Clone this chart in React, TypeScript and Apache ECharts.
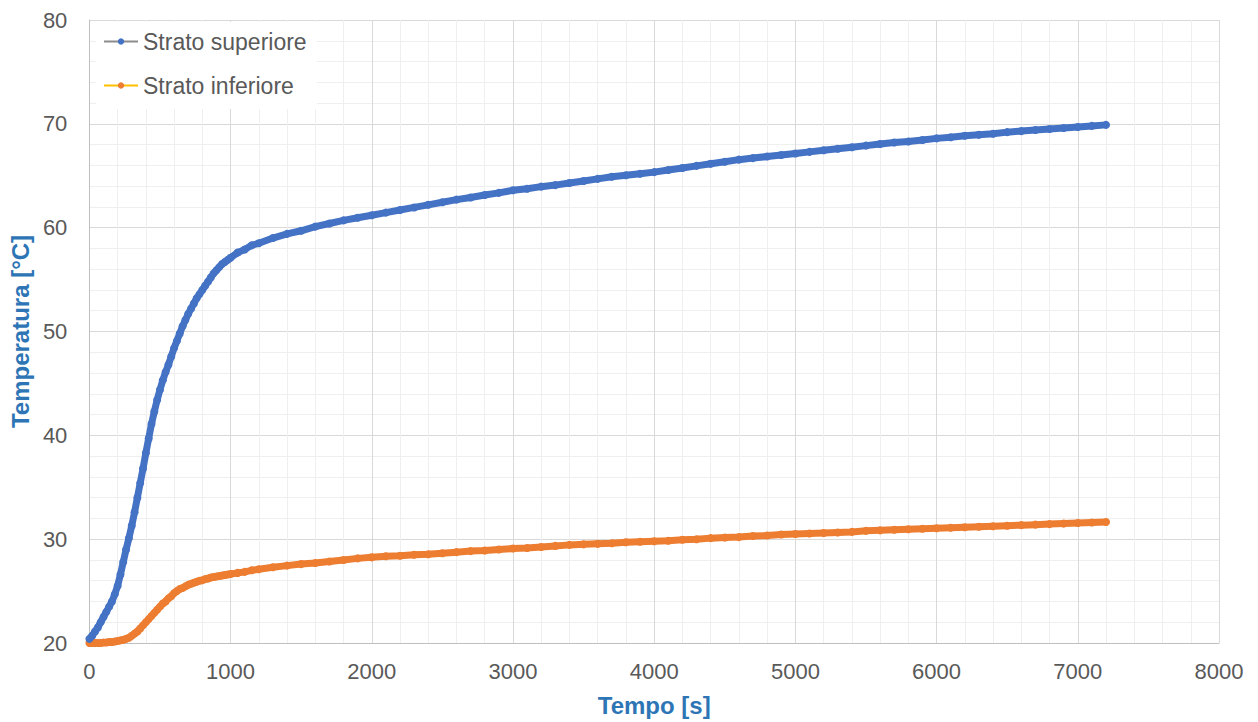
import React, { useEffect, useRef } from "react";
import * as echarts from "echarts";

const TIME = [
  0, 20, 40, 60, 80, 100, 120, 140, 160, 180, 200, 220, 240, 260, 280, 300, 320, 340, 360, 380,
  400, 420, 440, 460, 480, 500, 520, 540, 560, 580, 600, 620, 640, 660, 680, 700, 720, 740, 760, 780,
  800, 820, 840, 860, 880, 900, 920, 940, 960, 980, 1000,
  1050, 1100, 1150, 1200,
  1300, 1400, 1500, 1600, 1700, 1800, 1900, 2000, 2100, 2200, 2300, 2400, 2500, 2600, 2700, 2800, 2900, 3000,
  3100, 3200, 3300, 3400, 3500, 3600, 3700, 3800, 3900, 4000, 4100, 4200, 4300, 4400, 4500, 4600, 4700, 4800,
  4900, 5000, 5100, 5200, 5300, 5400, 5500, 5600, 5700, 5800, 5900, 6000, 6100, 6200, 6300, 6400, 6500, 6600,
  6700, 6800, 6900, 7000, 7100, 7200,
];

const STRATO_SUPERIORE = [
  20.4, 20.7, 21.1, 21.5, 22.0, 22.5, 23.0, 23.5, 24.0, 24.7, 25.5, 26.6, 27.8, 29.0, 30.1, 31.3, 32.6, 34.0, 35.4, 36.8,
  38.3, 39.7, 41.1, 42.3, 43.4, 44.4, 45.3, 46.1, 46.8, 47.6, 48.4, 49.1, 49.8, 50.5, 51.1, 51.7, 52.2, 52.7, 53.2, 53.6,
  54.0, 54.4, 54.8, 55.2, 55.6, 55.9, 56.2, 56.5, 56.7, 56.9, 57.1,
  57.6, 57.9, 58.3, 58.5,
  59.0, 59.4, 59.7, 60.1, 60.4, 60.7, 60.95, 61.2, 61.45, 61.7, 61.95, 62.2, 62.45, 62.7, 62.9, 63.15, 63.35, 63.6,
  63.75, 63.95, 64.1, 64.3, 64.5, 64.7, 64.9, 65.05, 65.2, 65.35, 65.55, 65.75, 65.95, 66.15, 66.35, 66.55, 66.7, 66.85,
  67.0, 67.15, 67.3, 67.45, 67.6, 67.75, 67.9, 68.05, 68.2, 68.3, 68.45, 68.6, 68.7, 68.85, 68.95, 69.05, 69.2, 69.3,
  69.4, 69.5, 69.6, 69.7, 69.8, 69.9,
];

const STRATO_INFERIORE = [
  20.0, 20.0, 20.0, 20.0, 20.0, 20.05, 20.05, 20.1, 20.1, 20.15, 20.2, 20.25, 20.3, 20.4, 20.5, 20.7, 20.9, 21.1, 21.4, 21.7,
  22.0, 22.3, 22.6, 22.9, 23.2, 23.5, 23.8, 24.0, 24.3, 24.5, 24.8, 25.0, 25.2, 25.3, 25.45, 25.6, 25.7, 25.8, 25.9, 26.0,
  26.05, 26.15, 26.2, 26.3, 26.35, 26.4, 26.45, 26.5, 26.55, 26.6, 26.65,
  26.75, 26.85, 27.0, 27.1,
  27.3, 27.45, 27.6, 27.7, 27.85, 28.0, 28.15, 28.25, 28.35, 28.4, 28.5, 28.55, 28.65, 28.75, 28.85, 28.9, 29.0, 29.1,
  29.15, 29.25, 29.35, 29.45, 29.5, 29.55, 29.6, 29.7, 29.75, 29.8, 29.85, 29.95, 30.0, 30.1, 30.15, 30.2, 30.3, 30.35,
  30.45, 30.5, 30.55, 30.6, 30.65, 30.7, 30.8, 30.85, 30.9, 30.95, 31.0, 31.05, 31.1, 31.15, 31.2, 31.25, 31.3, 31.35,
  31.4, 31.45, 31.5, 31.55, 31.6, 31.65,
];

const SERIES_NAMES = ["Strato superiore", "Strato inferiore"];
const X_TITLE = "Tempo [s]";
const Y_TITLE = "Temperatura [°C]";

const FONT = "'Liberation Sans', Arial, sans-serif";
const TITLE_COLOR = "#2E75B6";
const LABEL_COLOR = "#595959";

export default function App() {
  const ref = useRef<HTMLDivElement>(null);

  useEffect(() => {
    if (!ref.current) return;
    const chart = echarts.init(ref.current, undefined, { renderer: "svg" });
    const sup = TIME.map((t, i) => [t, STRATO_SUPERIORE[i]]);
    const inf = TIME.map((t, i) => [t, STRATO_INFERIORE[i]]);

    chart.setOption({
      animation: false,
      backgroundColor: "#ffffff",
      textStyle: { fontFamily: FONT },
      grid: { left: 87, right: 39, top: 20, bottom: 78, containLabel: false },
      legend: {
        orient: "vertical",
        left: 96,
        top: 22,
        itemWidth: 34,
        itemHeight: 8,
        itemGap: 21,
        padding: [8, 10, 12, 7],
        backgroundColor: "#ffffff",
        textStyle: { fontFamily: FONT, fontSize: 23, color: LABEL_COLOR },
        data: [
          { name: SERIES_NAMES[0], lineStyle: { color: "#8c8c8c", width: 2 } },
          { name: SERIES_NAMES[1], lineStyle: { color: "#FFC000", width: 2 } },
        ],
      },
      xAxis: {
        type: "value",
        min: 0,
        max: 8000,
        interval: 1000,
        name: X_TITLE,
        nameLocation: "middle",
        nameGap: 50,
        nameTextStyle: { fontFamily: FONT, fontSize: 24, fontWeight: "bold", color: TITLE_COLOR },
        axisLine: { show: true, lineStyle: { color: "#BFBFBF", width: 1 } },
        axisTick: { show: false },
        axisLabel: {
          fontFamily: FONT,
          fontSize: 22,
          color: LABEL_COLOR,
          margin: 17,
          formatter: (v: number) => String(v),
        },
        splitLine: { show: true, lineStyle: { color: "#D9D9D9", width: 1 } },
        minorTick: { show: false, splitNumber: 5 },
        minorSplitLine: { show: true, lineStyle: { color: "#EFEFEF", width: 1 } },
      },
      yAxis: {
        type: "value",
        min: 20,
        max: 80,
        interval: 10,
        name: Y_TITLE,
        nameLocation: "middle",
        nameGap: 54,
        nameTextStyle: { fontFamily: FONT, fontSize: 24, fontWeight: "bold", color: TITLE_COLOR },
        axisLine: { show: true, lineStyle: { color: "#BFBFBF", width: 1 } },
        axisTick: { show: false },
        axisLabel: { fontFamily: FONT, fontSize: 22, color: LABEL_COLOR, margin: 22 },
        splitLine: { show: true, lineStyle: { color: "#D9D9D9", width: 1 } },
        minorTick: { show: false, splitNumber: 5 },
        minorSplitLine: { show: true, lineStyle: { color: "#EFEFEF", width: 1 } },
      },
      series: [
        {
          name: SERIES_NAMES[0],
          type: "line",
          data: sup,
          symbol: "circle",
          symbolSize: 8,
          showAllSymbol: true,
          itemStyle: { color: "#4472C4" },
          lineStyle: { color: "#4472C4", width: 7 },
          z: 3,
        },
        {
          name: SERIES_NAMES[1],
          type: "line",
          data: inf,
          symbol: "circle",
          symbolSize: 8,
          showAllSymbol: true,
          itemStyle: { color: "#ED7D31" },
          lineStyle: { color: "#ED7D31", width: 7 },
          z: 2,
        },
      ],
    });

    return () => chart.dispose();
  }, []);

  return (
    <div
      ref={ref}
      style={{ position: "fixed", left: 0, top: 0, width: 1258, height: 722 }}
    />
  );
}
